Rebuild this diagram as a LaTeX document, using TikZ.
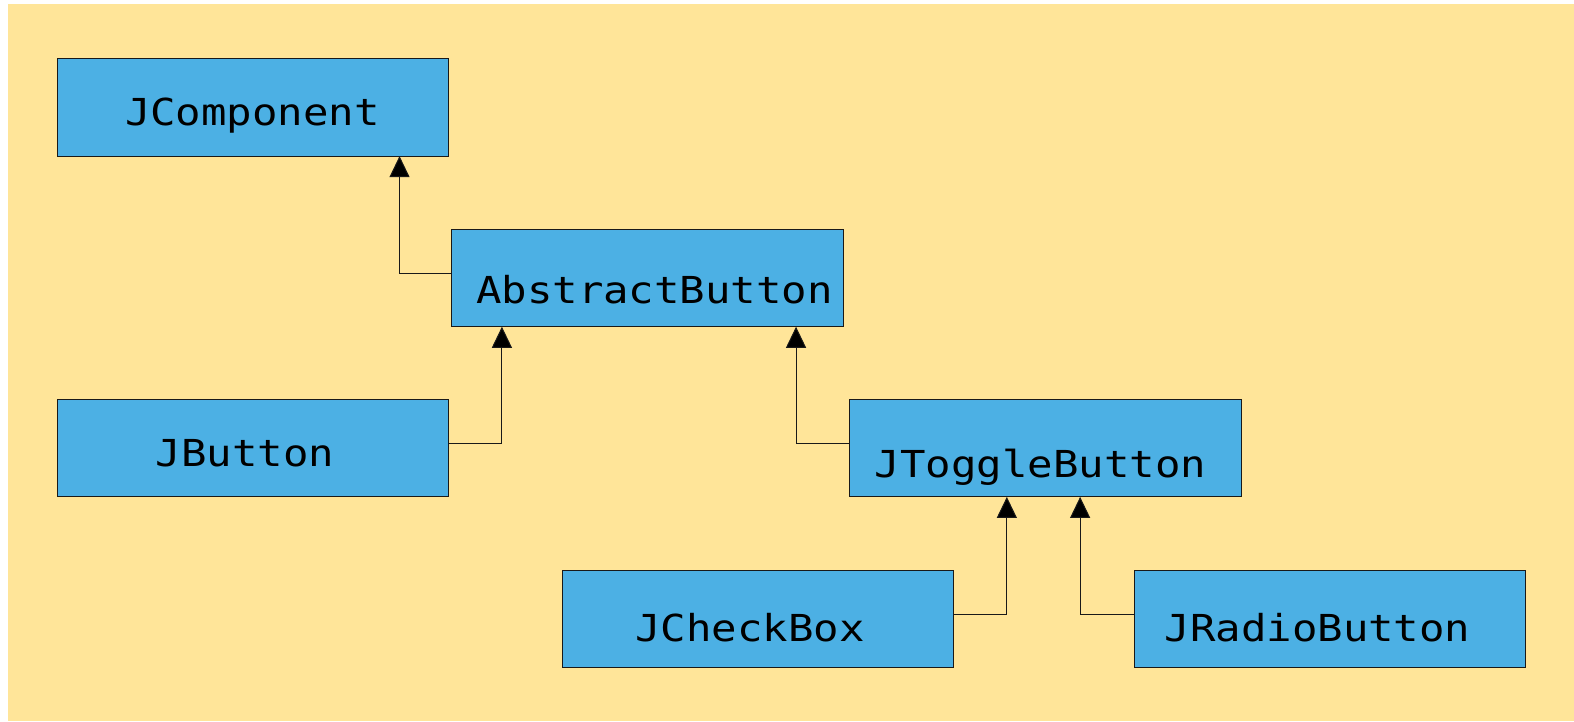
\documentclass[tikz,border=0pt]{standalone}
\usepackage{fontspec}
\newfontfamily\boxfont[FakeStretch=1.14]{DejaVu Sans Mono}
\usetikzlibrary{arrows.meta}
\definecolor{bgyellow}{RGB}{255,229,153}
\definecolor{boxblue}{RGB}{76,176,228}
\definecolor{edge}{RGB}{25,25,25}
\tikzset{
  classbox/.style={draw=edge, fill=boxblue, line width=1pt, minimum width=390pt, minimum height=97pt, inner sep=0pt, outer sep=0pt},
  classlabel/.style={anchor=base, inner sep=0pt, font=\boxfont\fontsize{37}{43}\selectfont},
  inherit/.style={draw=edge, line width=1pt, -{Triangle[width=20pt,length=21pt,fill=black]}}
}
\begin{document}
\begin{tikzpicture}[x=1pt,y=-1pt]
\useasboundingbox (0,0) rectangle (1568,718.27);
\fill[bgyellow] (8,4) rectangle (1568,718.27);
% boxes
\node[classbox] (jc)  at (252,107) {};
\node[classbox] (abs) at (645,277) {};
\node[classbox] (jb)  at (252,446.5) {};
\node[classbox] (tog) at (1041.5,446.5) {};
\node[classbox] (chk) at (755,616.5) {};
\node[classbox] (rad) at (1325,616.5) {};
% labels
\node[classlabel] (tjc)  at (251.5,125.5) {JComponent};
\node[classlabel] (tabs) at (652,301.9) {AbstractButton};
\node[classlabel] (tjb)  at (244.1,465.2) {JButton};
\node[classlabel] (ttog) at (1036.6,475.2) {JToggleButton};
\node[classlabel] (tchk) at (747.2,638.6) {JCheckBox};
\node[classlabel] (trad) at (1312.5,638.6) {JRadioButton};
% connectors
\draw[inherit] ([yshift=5pt]abs.west) -| ([xshift=146pt]jc.south);
\draw[inherit] ([yshift=4.5pt]jb.east) -| ([xshift=-145pt]abs.south);
\draw[inherit] ([yshift=4.5pt]tog.west) -| ([xshift=148pt]abs.south);
\draw[inherit] ([yshift=4.5pt]chk.east) -| ([xshift=-38.5pt]tog.south);
\draw[inherit] ([yshift=4.5pt]rad.west) -| ([xshift=34.5pt]tog.south);
\end{tikzpicture}
\end{document}
